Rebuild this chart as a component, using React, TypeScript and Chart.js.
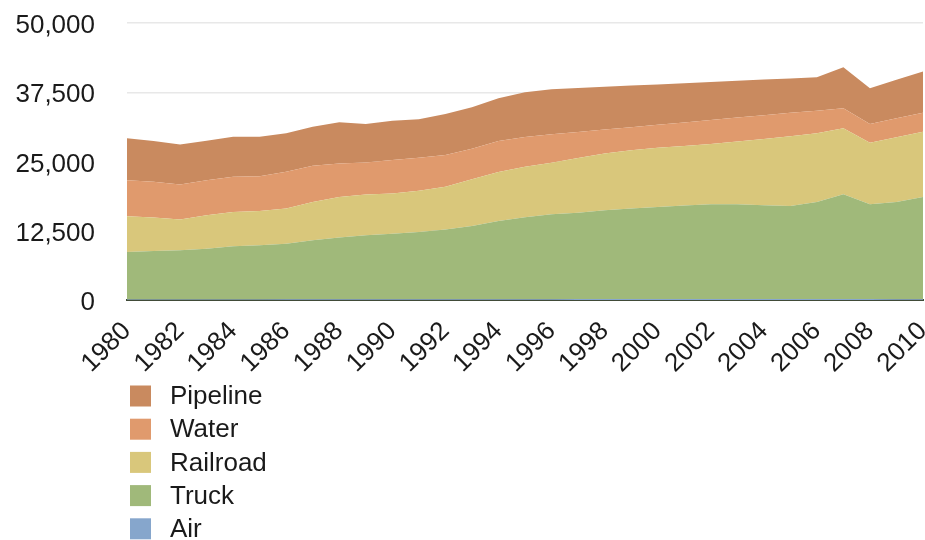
import React, { useEffect, useRef } from "react";
import { Chart, registerables } from "chart.js";

Chart.register(...registerables);

const years: string[] = [
  "1980", "1981", "1982", "1983", "1984", "1985", "1986", "1987", "1988", "1989",
  "1990", "1991", "1992", "1993", "1994", "1995", "1996", "1997", "1998", "1999",
  "2000", "2001", "2002", "2003", "2004", "2005", "2006", "2007", "2008", "2009", "2010",
];

const air: number[] = [
  90, 90, 95, 100, 105, 110, 115, 120, 125, 130,
  135, 140, 140, 145, 150, 150, 155, 160, 160, 165,
  165, 160, 165, 165, 170, 170, 170, 165, 160, 150, 155,
];

const truck: number[] = [
  8560, 8740, 8865, 9170, 9585, 9760, 10055, 10650, 11135, 11550,
  11845, 12130, 12570, 13195, 14100, 14800, 15345, 15590, 16040, 16335,
  16635, 16890, 17125, 17125, 16940, 16820, 17530, 18935, 17130, 17550, 18455,
];

const railroad: number[] = [
  6470, 6050, 5560, 6030, 6200, 6210, 6340, 6940, 7350, 7360,
  7240, 7430, 7710, 8460, 8850, 9100, 9270, 9900, 10260, 10550,
  10700, 10750, 10860, 11310, 11940, 12560, 12380, 11890, 11100, 11660, 11770,
];

const water: number[] = [
  6510, 6450, 6330, 6330, 6340, 6280, 6630, 6510, 6040, 5790,
  6030, 5970, 5740, 5500, 5600, 5350, 5130, 4680, 4300, 4150,
  4130, 4260, 4350, 4330, 4310, 4240, 4100, 3620, 3380, 3440, 3440,
];

const pipeline: number[] = [
  7550, 7360, 7240, 7120, 7240, 7110, 6950, 7060, 7430, 6940,
  7120, 6950, 7420, 7490, 7720, 8110, 8150, 7940, 7720, 7500,
  7290, 7070, 6850, 6640, 6420, 6210, 6040, 7420, 6460, 6940, 7420,
];

const yTicks: number[] = [0, 12500, 25000, 37500, 50000];

const FONT = "'Liberation Sans', Helvetica, Arial, sans-serif";

// Vertical legend list drawn beneath the rotated year labels.
const stackedLegend = {
  id: "stackedLegend",
  afterDraw(chart: Chart) {
    const ctx = chart.ctx;
    const items = chart.data.datasets
      .map((ds: any) => ({ label: ds.label as string, color: ds.backgroundColor as string }))
      .reverse();
    const boxX = 130;
    const boxW = 21;
    const boxH = 21;
    const textX = 170;
    const firstY = 396;
    const rowH = 33.2;
    ctx.save();
    ctx.font = `26px ${FONT}`;
    ctx.textBaseline = "middle";
    ctx.textAlign = "left";
    items.forEach((it, i) => {
      const cy = firstY + i * rowH;
      ctx.fillStyle = it.color;
      ctx.fillRect(boxX, cy - boxH / 2, boxW, boxH);
      ctx.fillStyle = "#1a1a1a";
      ctx.fillText(it.label, textX, cy + 1);
    });
    ctx.restore();
  },
};

export default function App() {
  const canvasRef = useRef<HTMLCanvasElement | null>(null);

  useEffect(() => {
    if (!canvasRef.current) return;
    const area = (label: string, data: number[], color: string, fill: string | boolean) => ({
      label,
      data,
      backgroundColor: color,
      borderColor: color,
      borderWidth: 0,
      pointRadius: 0,
      pointHoverRadius: 0,
      fill,
      tension: 0,
    });

    const chart = new Chart(canvasRef.current, {
      type: "line",
      data: {
        labels: years,
        datasets: [
          area("Air", air, "#86a6cc", "origin"),
          area("Truck", truck, "#a0b97a", "-1"),
          area("Railroad", railroad, "#d9c77b", "-1"),
          area("Water", water, "#e09a6d", "-1"),
          area("Pipeline", pipeline, "#c98a5f", "-1"),
        ] as any,
      },
      options: {
        animation: false,
        responsive: false,
        maintainAspectRatio: false,
        layout: { padding: { top: 23, right: 2, left: 0, bottom: 0 } },
        plugins: {
          legend: { display: false },
          tooltip: { enabled: false },
          title: { display: false },
        },
        scales: {
          x: {
            stacked: true,
            offset: false,
            grid: { display: false, drawTicks: false },
            border: { display: true, color: "#414b38", width: 2 },
            ticks: {
              autoSkip: false,
              maxRotation: 45,
              minRotation: 45,
              padding: 16,
              color: "#1a1a1a",
              font: { family: FONT, size: 26 },
              callback: (_v: any, i: number) => (i % 2 === 0 ? years[i] : ""),
            },
            afterFit: (scale: any) => {
              scale.height = 240;
              scale.paddingLeft = 0;
              scale.paddingRight = 0;
            },
          },
          y: {
            stacked: true,
            min: 0,
            max: 50000,
            afterBuildTicks: (scale: any) => {
              scale.ticks = yTicks.map((v) => ({ value: v }));
            },
            grid: { color: "#e8e8e8", lineWidth: 1.5, drawTicks: false },
            border: { display: false },
            ticks: {
              padding: 32,
              labelOffset: 3,
              color: "#1a1a1a",
              font: { family: FONT, size: 26 },
              callback: (v: any) => Number(v).toLocaleString("en-US"),
            },
            afterFit: (scale: any) => {
              scale.width = 127;
              scale.paddingTop = 0;
              scale.paddingBottom = 0;
            },
          },
        },
      },
      plugins: [stackedLegend],
    });
    return () => chart.destroy();
  }, []);

  return (
    <div style={{ position: "fixed", left: 0, top: 0, width: 925, height: 540, background: "#ffffff" }}>
      <canvas ref={canvasRef} width={925} height={540} style={{ display: "block" }} />
    </div>
  );
}
